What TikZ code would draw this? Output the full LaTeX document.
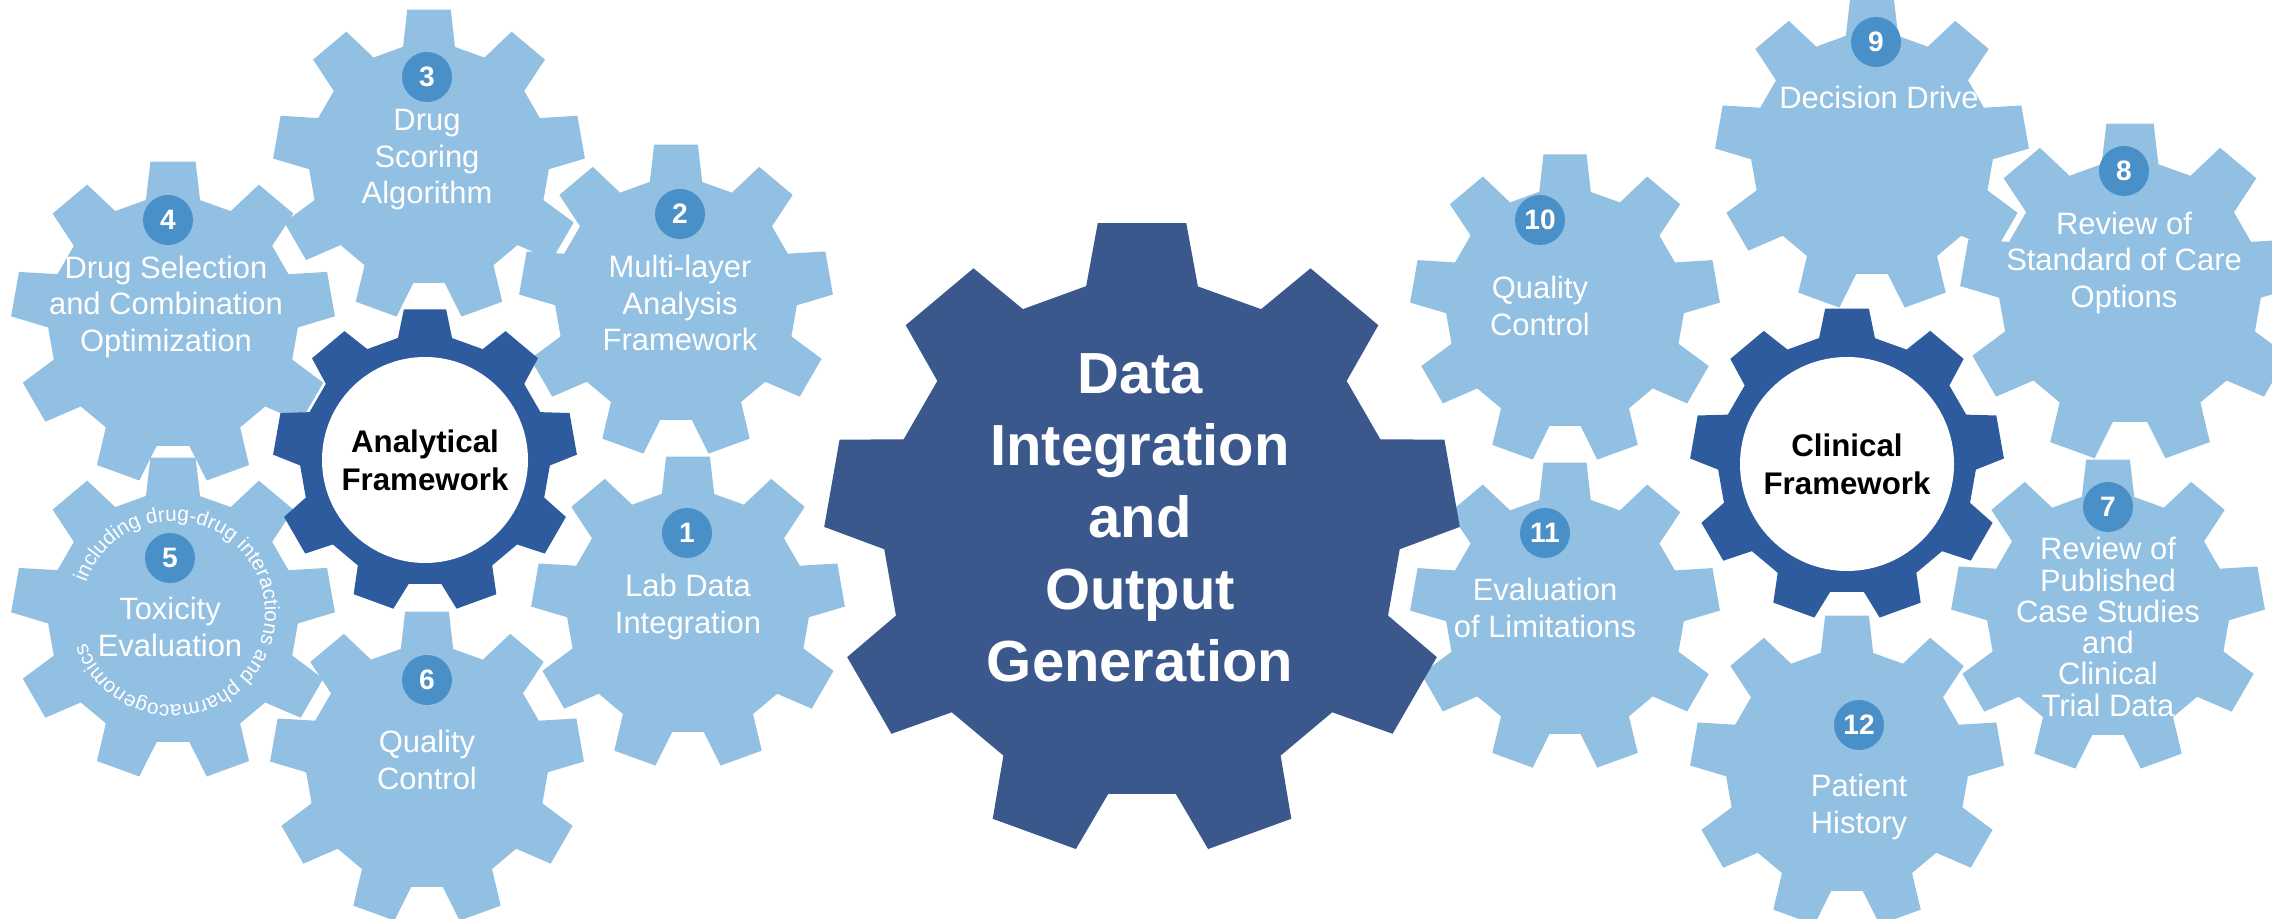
\documentclass[tikz,border=0pt]{standalone}
\usepackage{fontspec}
\setmainfont{Liberation Sans}
\usetikzlibrary{decorations.text}

\definecolor{gearlight}{RGB}{146,192,226}
\definecolor{gearnum}{RGB}{74,144,200}
\definecolor{gearframe}{RGB}{46,90,158}
\definecolor{gearcore}{RGB}{59,88,140}

% gear with nine teeth, one pointing up
\newcommand{\drawgear}[4]{% centre, outer radius, root radius, fill
  \fill[#4, shift={(#1)}] (78:#3)
    \foreach \a in {90,130,...,410} {
      -- ({\a-12.5}:#3) -- ({\a-8}:#2) -- ({\a+8}:#2) -- ({\a+12.5}:#3)
    } -- cycle;
}

\begin{document}
\begin{tikzpicture}[
        num/.style={circle, fill=gearnum, text=white, inner sep=0pt, minimum size=0.5cm,
            font=\bfseries\fontsize{8}{9}\selectfont},
        gearlabel/.style={text=white, align=center, inner sep=0pt,
            font=\fontsize{8.8}{10.4}\selectfont},
        framelabel/.style={circle, fill=white, align=center, inner sep=0pt,
            font=\bfseries\fontsize{8.9}{10.8}\selectfont},
        corelabel/.style={text=white, align=center, inner sep=0pt,
            font=\bfseries\fontsize{16.5}{20.5}\selectfont}
    ]
    \useasboundingbox (0,0) rectangle (22.72,9.18);
    \fill[white] (0,0) rectangle (22.72,9.18);

    % Gears
    \drawgear{6.88,3.06}{1.57}{1.21}{gearlight}
    \drawgear{6.76,6.18}{1.57}{1.21}{gearlight}
    \drawgear{4.29,7.54}{1.56}{1.20}{gearlight}
    \drawgear{1.73,5.96}{1.62}{1.25}{gearlight}
    \drawgear{1.73,3.00}{1.62}{1.25}{gearlight}
    \drawgear{4.27,1.51}{1.57}{1.21}{gearlight}
    \drawgear{21.08,3.03}{1.57}{1.21}{gearlight}
    \drawgear{21.30,6.26}{1.70}{1.31}{gearlight}
    \drawgear{18.72,7.64}{1.57}{1.21}{gearlight}
    \drawgear{15.65,6.10}{1.55}{1.19}{gearlight}
    \drawgear{15.65,3.02}{1.55}{1.19}{gearlight}
    \drawgear{18.47,1.47}{1.57}{1.21}{gearlight}
    \drawgear{4.25,4.58}{1.52}{1.25}{gearframe}
    \drawgear{18.47,4.54}{1.57}{1.29}{gearframe}
    \drawgear{11.42,3.80}{3.18}{2.58}{gearcore}

    % Centre and frameworks
    \node[corelabel] (core) at (11.40,4.00) {Data\\Integration\\and\\Output\\Generation};
    \node[framelabel, minimum size=2.06cm] (analytical) at (4.25,4.58) {Analytical\\Framework};
    \node[framelabel, minimum size=2.14cm] (clinical) at (18.47,4.54) {Clinical\\Framework};

    % Numbers
    \node[num] (n1) at (6.87,3.85) {1};
    \node[num] (n2) at (6.80,7.04) {2};
    \node[num] (n3) at (4.27,8.41) {3};
    \node[num] (n4) at (1.68,6.98) {4};
    \node[num] (n5) at (1.70,3.60) {5};
    \node[num] (n6) at (4.27,2.38) {6};
    \node[num] (n7) at (21.08,4.11) {7};
    \node[num] (n8) at (21.24,7.47) {8};
    \node[num] (n9) at (18.76,8.76) {9};
    \node[num] (n10) at (15.40,6.98) {10};
    \node[num] (n11) at (15.45,3.85) {11};
    \node[num] (n12) at (18.59,1.93) {12};

    % Labels
    \node[gearlabel] (t1) at (6.88,3.11) {Lab Data\\Integration};
    \node[gearlabel] (t2) at (6.80,6.15) {Multi-layer\\Analysis\\Framework};
    \node[gearlabel] (t3) at (4.27,7.58) {Drug\\Scoring\\Algorithm};
    \node[gearlabel] (t4) at (1.66,6.11) {Drug Selection\\and Combination\\Optimization};
    \node[gearlabel] (t5) at (1.70,2.91) {Toxicity\\Evaluation};
    \node[gearlabel] (t6) at (4.27,1.58) {Quality\\Control};
    \node[gearlabel, font=\fontsize{8.8}{8.9}\selectfont] (t7) at (21.08,2.91)
        {Review of\\Published\\Case Studies\\and\\Clinical\\Trial Data};
    \node[gearlabel] (t8) at (21.24,6.55) {Review of\\Standard of Care\\Options};
    \node[gearlabel] (t9) at (18.79,8.21) {Decision Drive};
    \node[gearlabel] (t10) at (15.40,6.12) {Quality\\Control};
    \node[gearlabel] (t11) at (15.45,3.10) {Evaluation\\of Limitations};
    \node[gearlabel] (t12) at (18.59,1.11) {Patient\\History};

    % Text round gear 5
    \coordinate (g5) at (1.73,3.05);
    \path[decorate, decoration={text along path, text align=center,
        text={|\color{white}\fontsize{5.9}{7}\selectfont|including drug-drug interactions and pharmacogenomics}}]
        (g5) ++(170:0.92) arc[start angle=170, end angle=-170, radius=0.92];
\end{tikzpicture}
\end{document}
